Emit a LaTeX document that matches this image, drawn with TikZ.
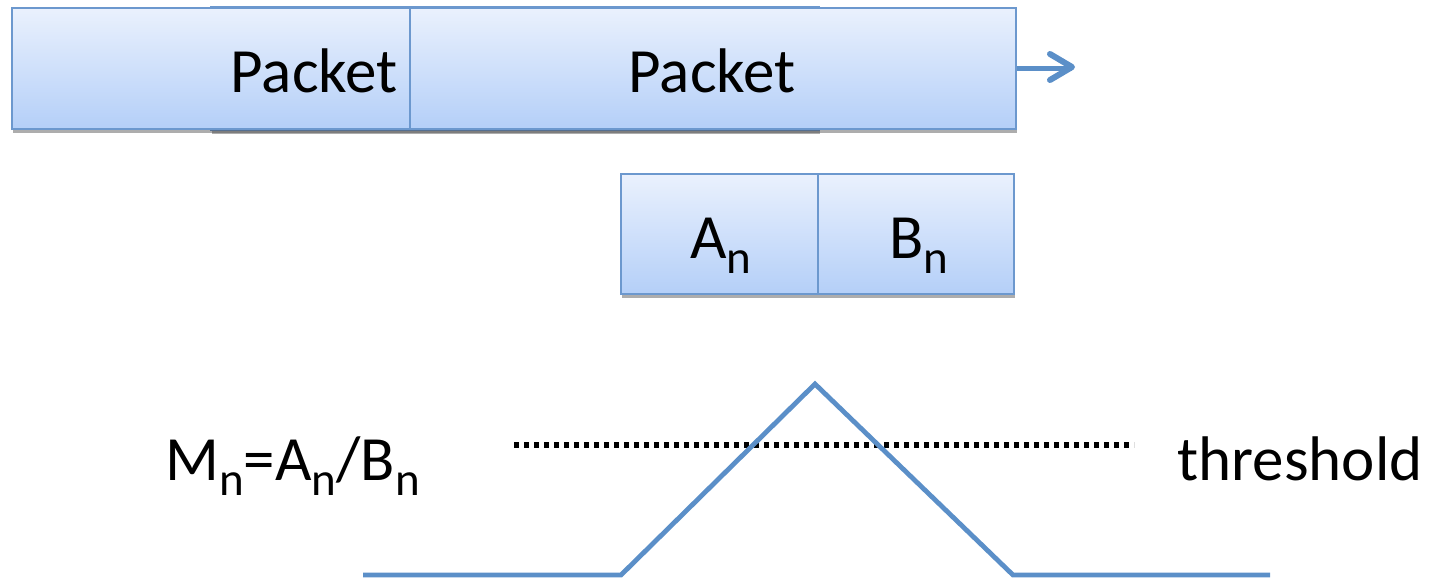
\documentclass[tikz,border=0pt]{standalone}
\usepackage{fontspec}
\setmainfont{Carlito}
\usetikzlibrary{shadows,arrows.meta}
\definecolor{boxtop}{RGB}{234,241,253}
\definecolor{boxbot}{RGB}{180,207,248}
\definecolor{boxedge}{RGB}{108,152,206}
\definecolor{flowblue}{RGB}{91,143,200}
\tikzset{
  pbox/.style={draw=boxedge, line width=0.9pt, top color=boxtop, bottom color=boxbot,
    drop shadow={shadow xshift=0.4pt, shadow yshift=-2pt, opacity=0.4, fill=black!80},
    inner sep=0pt, anchor=north west},
  lbl/.style={font=\fontsize{31.5}{36}\selectfont, inner sep=0pt, text=black},
  flow/.style={draw=flowblue, line width=2.4pt},
  thr/.style={draw=black, line width=2.8pt, dash pattern=on 2.6pt off 2.4pt},
}
\newcommand{\sbn}{\raisebox{-0.25em}{\fontsize{23.5}{23.5}\selectfont n}}
\begin{document}
\begin{tikzpicture}[x=0.5pt,y=-0.5pt]
\useasboundingbox (0,0) rectangle (1431,580);
% hidden packets behind
\node[pbox, minimum width=202.5pt, minimum height=61.5pt] (h1) at (210,6) {};
\node[pbox, minimum width=101.5pt, minimum height=61.5pt] (h2) at (615,6) {};
% front packets
\node[pbox, minimum width=199pt, minimum height=60.5pt] (p1) at (11,7) {};
\node[pbox, minimum width=303pt, minimum height=60.5pt] (p2) at (409,7) {};
\node[lbl, anchor=base] (p1t) at (314,92) {Packet};
\node[lbl, anchor=base] (p2t) at (712,92) {Packet};
\coordinate (aend) at (1072,67);
\coordinate (aup) at (1050,54);
\coordinate (adn) at (1050,80);
\draw[flow] (p2.east) -- (p2.east -| aend);
\draw[flow, line width=3pt, line join=round, line cap=round] (aup) -- (aend) -- (adn);
% A_n, B_n
\node[pbox, minimum width=98.5pt, minimum height=60pt] (an) at (620,173) {};
\node[pbox, minimum width=98pt, minimum height=60pt] (bn) at (817,173) {};
\node[lbl, anchor=base west] (ant) at (690,258) {A\sbn};
\node[lbl, anchor=base west] (bnt) at (889,258) {B\sbn};
% graph
\coordinate (g0) at (363,575);
\coordinate (g1) at (621,575);
\coordinate (g2) at (815,384);
\coordinate (g3) at (1013,575);
\coordinate (g4) at (1270,575);
\coordinate (t0) at (514,445);
\coordinate (t1) at (1134,445);
\draw[thr] (t0) -- (t1);
\draw[flow, line join=miter] (g0) -- (g1) -- (g2) -- (g3) -- (g4);
\node[lbl, anchor=base west] (mn) at (165,480) {M\sbn=A\sbn/B\sbn};
\node[lbl, anchor=base west] (th) at (1177,480) {threshold};
\end{tikzpicture}
\end{document}
